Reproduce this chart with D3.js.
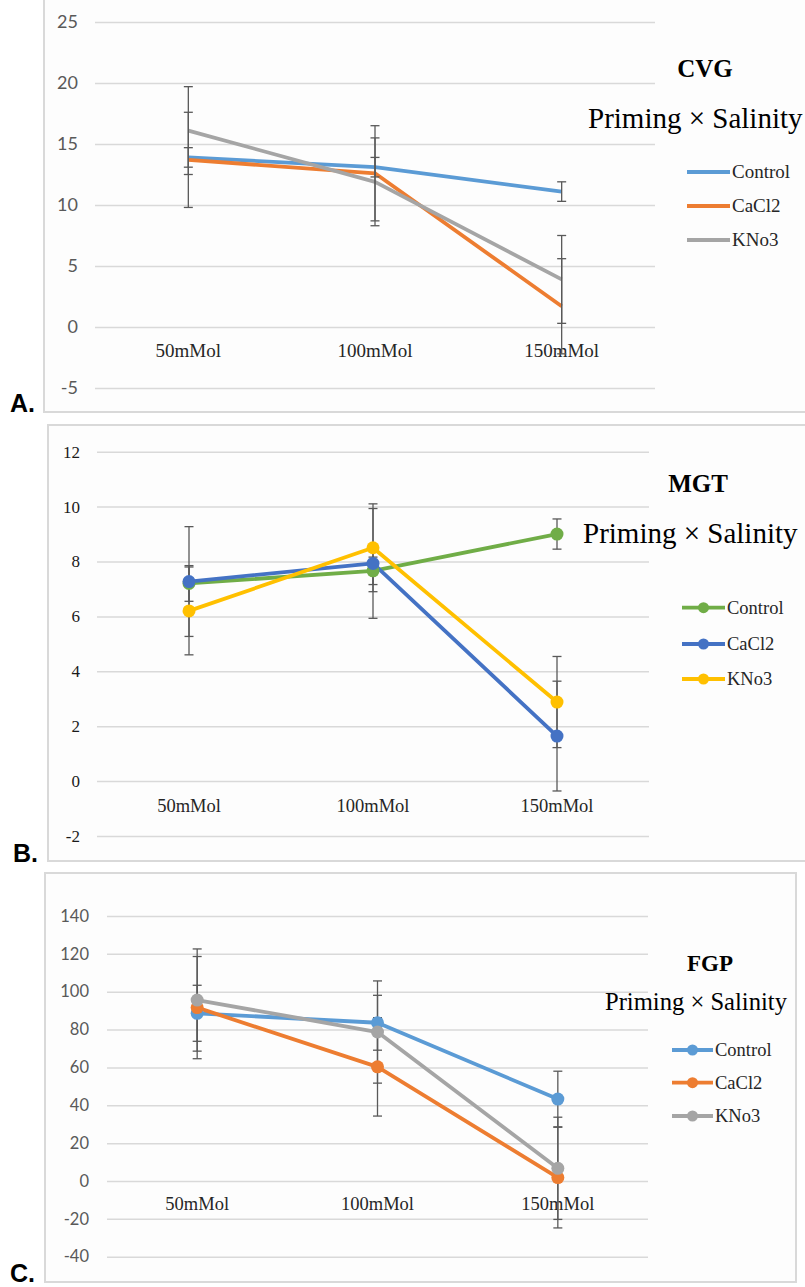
<!DOCTYPE html>
<html lang="en">
<head>
<meta charset="UTF-8">
<title>Priming x Salinity</title>
<style>
  body { margin: 0; background: #ffffff; }
  svg { display: block; }
  .ytick text { fill: #595959; }
  .cat { font-family: "Liberation Serif", "Times New Roman", serif; fill: #262626; }
  .leg { font-family: "Liberation Serif", "Times New Roman", serif; fill: #262626; }
  .title { font-family: "Liberation Serif", "Times New Roman", serif; fill: #000; }
  .plabel { font-family: "Liberation Sans", Arial, sans-serif; font-weight: bold; font-size: 25px; fill: #000; }
</style>
</head>
<body>
<svg width="805" height="1287"></svg>
<script src="https://cdnjs.cloudflare.com/ajax/libs/d3/7.8.5/d3.min.js"></script>
<script>
// ---- data ----
const categories = ["50mMol", "100mMol", "150mMol"];
const treatments = ["Control", "CaCl2", "KNo3"];

const cvgValues = [[13.9, 13.1, 11.1], [13.7, 12.6, 1.7], [16.1, 11.9, 3.9]];
const cvgErrors = [[0.8, 0.8, 0.8], [3.9, 3.9, 3.9], [3.6, 3.6, 3.6]];
const cvgTicks = [-5, 0, 5, 10, 15, 20, 25];

const mgtValues = [[7.2, 7.66, 9.0], [7.27, 7.93, 1.64], [6.2, 8.5, 2.88]];
const mgtErrors = [[0.65, 0.5, 0.55], [2.0, 2.0, 2.0], [1.6, 1.6, 1.66]];
const mgtTicks = [-2, 0, 2, 4, 6, 8, 10, 12];

const fgpValues = [[88.6, 83.6, 43.3], [91.6, 60.3, 1.8], [95.6, 78.7, 6.7]];
const fgpErrors = [[14.8, 14.5, 14.7], [27, 26, 26.6], [27, 27, 27]];
const fgpTicks = [-40, -20, 0, 20, 40, 60, 80, 100, 120, 140];

const svg = d3.select("svg");

// layout for each panel
const panels = [
  { label: "A.", labelX: 10, labelY: 412,
    frame: [44, -1, 790, 413], plotX: [95, 655], plotY: [388, 22],
    ticks: cvgTicks, values: cvgValues, errors: cvgErrors, title: "CVG",
    colors: ["#5B9BD5", "#ED7D31", "#A5A5A5"], markers: false,
    tickFont: "Lato, 'Open Sans', sans-serif", tickSize: "18px", tickColor: "#595959", tickRight: 78,
    catSize: 19, catY: 357,
    titleX: 705, titleY: 77, titleSize: 25, subX: 588, subY: 128, subSize: 29,
    legX: [687, 730], legY: [172, 206, 240], legSize: 19 },
  { label: "B.", labelX: 13, labelY: 862,
    frame: [48, 425, 760, 436], plotX: [97, 649], plotY: [836, 451.7],
    ticks: mgtTicks, values: mgtValues, errors: mgtErrors, title: "MGT",
    colors: ["#70AD47", "#4472C4", "#FFC000"], markers: true,
    tickFont: "'Liberation Serif', 'Times New Roman', serif", tickSize: "17px", tickColor: "#1a1a1a", tickRight: 80,
    catSize: 18.5, catY: 812,
    titleX: 698, titleY: 492, titleSize: 25, subX: 583, subY: 543, subSize: 29,
    legX: [682, 725], legY: [607.7, 644, 679], legSize: 18.5 },
  { label: "C.", labelX: 10, labelY: 1282,
    frame: [45, 873, 751, 409], plotX: [107, 648], plotY: [1256.7, 916],
    ticks: fgpTicks, values: fgpValues, errors: fgpErrors, title: "FGP",
    colors: ["#5B9BD5", "#ED7D31", "#A5A5A5"], markers: true,
    tickFont: "Lato, 'Open Sans', sans-serif", tickSize: "16.5px", tickColor: "#595959", tickRight: 89,
    catSize: 18.5, catY: 1210,
    titleX: 710, titleY: 971, titleSize: 23, subX: 605, subY: 1010, subSize: 24.6,
    legX: [672, 713], legY: [1050, 1082.7, 1116], legSize: 18.5 }
];

panels.forEach((p, pi) => {
  const g = svg.append("g");
  const clipId = "clip" + pi;
  svg.append("clipPath").attr("id", clipId)
    .append("rect").attr("x", p.frame[0]).attr("y", p.frame[1])
    .attr("width", p.frame[2]).attr("height", p.frame[3]);

  // frame
  g.append("rect")
    .attr("x", p.frame[0]).attr("y", p.frame[1])
    .attr("width", p.frame[2]).attr("height", p.frame[3])
    .attr("fill", "#fdfdfd").attr("stroke", "#d9d9d9").attr("stroke-width", 2);

  const inner = g.append("g").attr("clip-path", `url(#${clipId})`);

  const x = d3.scaleBand().domain(categories).range(p.plotX);
  const cx = c => x(c) + x.bandwidth() / 2;
  const y = d3.scaleLinear().domain(d3.extent(p.ticks)).range(p.plotY);

  // y axis with gridlines (plain hyphen for negatives, as in the figure)
  const axis = d3.axisLeft(y).tickValues(p.ticks)
    .tickSize(-(p.plotX[1] - p.plotX[0])).tickPadding(p.plotX[0] - p.tickRight)
    .tickFormat(d => String(d));
  const ax = inner.append("g").attr("class", "ytick")
    .attr("transform", `translate(${p.plotX[0]},0)`).call(axis);
  ax.select(".domain").remove();
  ax.selectAll(".tick line").attr("stroke", "#d9d9d9").attr("stroke-width", 1.5);
  ax.selectAll(".tick text")
    .style("font-family", p.tickFont).style("font-size", p.tickSize)
    .style("fill", p.tickColor);

  // category labels
  inner.selectAll(".cat").data(categories).enter().append("text")
    .attr("class", "cat")
    .attr("x", d => cx(d)).attr("y", p.catY)
    .attr("text-anchor", "middle").style("font-size", p.catSize + "px")
    .text(d => d);

  const line = d3.line().x((d, i) => cx(categories[i])).y(d => y(d));

  // series lines
  treatments.forEach((t, si) => {
    inner.append("path").datum(p.values[si])
      .attr("d", line).attr("fill", "none")
      .attr("stroke", p.colors[si]).attr("stroke-width", 3.8)
      .attr("stroke-linejoin", "round");
  });

  // error bars
  treatments.forEach((t, si) => {
    p.values[si].forEach((v, i) => {
      const e = p.errors[si][i];
      const xc = cx(categories[i]);
      const eg = inner.append("g").attr("stroke", "#595959").attr("stroke-width", 1.3);
      eg.append("line").attr("x1", xc).attr("x2", xc).attr("y1", y(v + e)).attr("y2", y(v - e));
      [v + e, v - e].forEach(b => {
        eg.append("line").attr("x1", xc - 4.5).attr("x2", xc + 4.5).attr("y1", y(b)).attr("y2", y(b));
      });
    });
  });

  // markers
  if (p.markers) {
    treatments.forEach((t, si) => {
      inner.selectAll(null).data(p.values[si]).enter().append("circle")
        .attr("cx", (d, i) => cx(categories[i])).attr("cy", d => y(d))
        .attr("r", 6.5).attr("fill", p.colors[si]);
    });
  }

  // title + subtitle
  inner.append("text").attr("class", "title")
    .attr("x", p.titleX).attr("y", p.titleY).attr("text-anchor", "middle")
    .style("font-size", p.titleSize + "px").style("font-weight", "bold")
    .text(p.title);
  inner.append("text").attr("class", "title")
    .attr("x", p.subX).attr("y", p.subY)
    .style("font-size", p.subSize + "px")
    .text("Priming \u00d7 Salinity");

  // legend
  treatments.forEach((t, si) => {
    const ly = p.legY[si];
    inner.append("line")
      .attr("x1", p.legX[0]).attr("x2", p.legX[1]).attr("y1", ly).attr("y2", ly)
      .attr("stroke", p.colors[si]).attr("stroke-width", 3.8);
    if (p.markers) {
      inner.append("circle").attr("cx", (p.legX[0] + p.legX[1]) / 2).attr("cy", ly)
        .attr("r", 5.5).attr("fill", p.colors[si]);
    }
    inner.append("text").attr("class", "leg")
      .attr("x", p.legX[1] + 2).attr("y", ly + 6)
      .style("font-size", p.legSize + "px")
      .text(t);
  });

  // panel letter
  svg.append("text").attr("class", "plabel")
    .attr("x", p.labelX).attr("y", p.labelY).text(p.label);
});
</script>
</body>
</html>
